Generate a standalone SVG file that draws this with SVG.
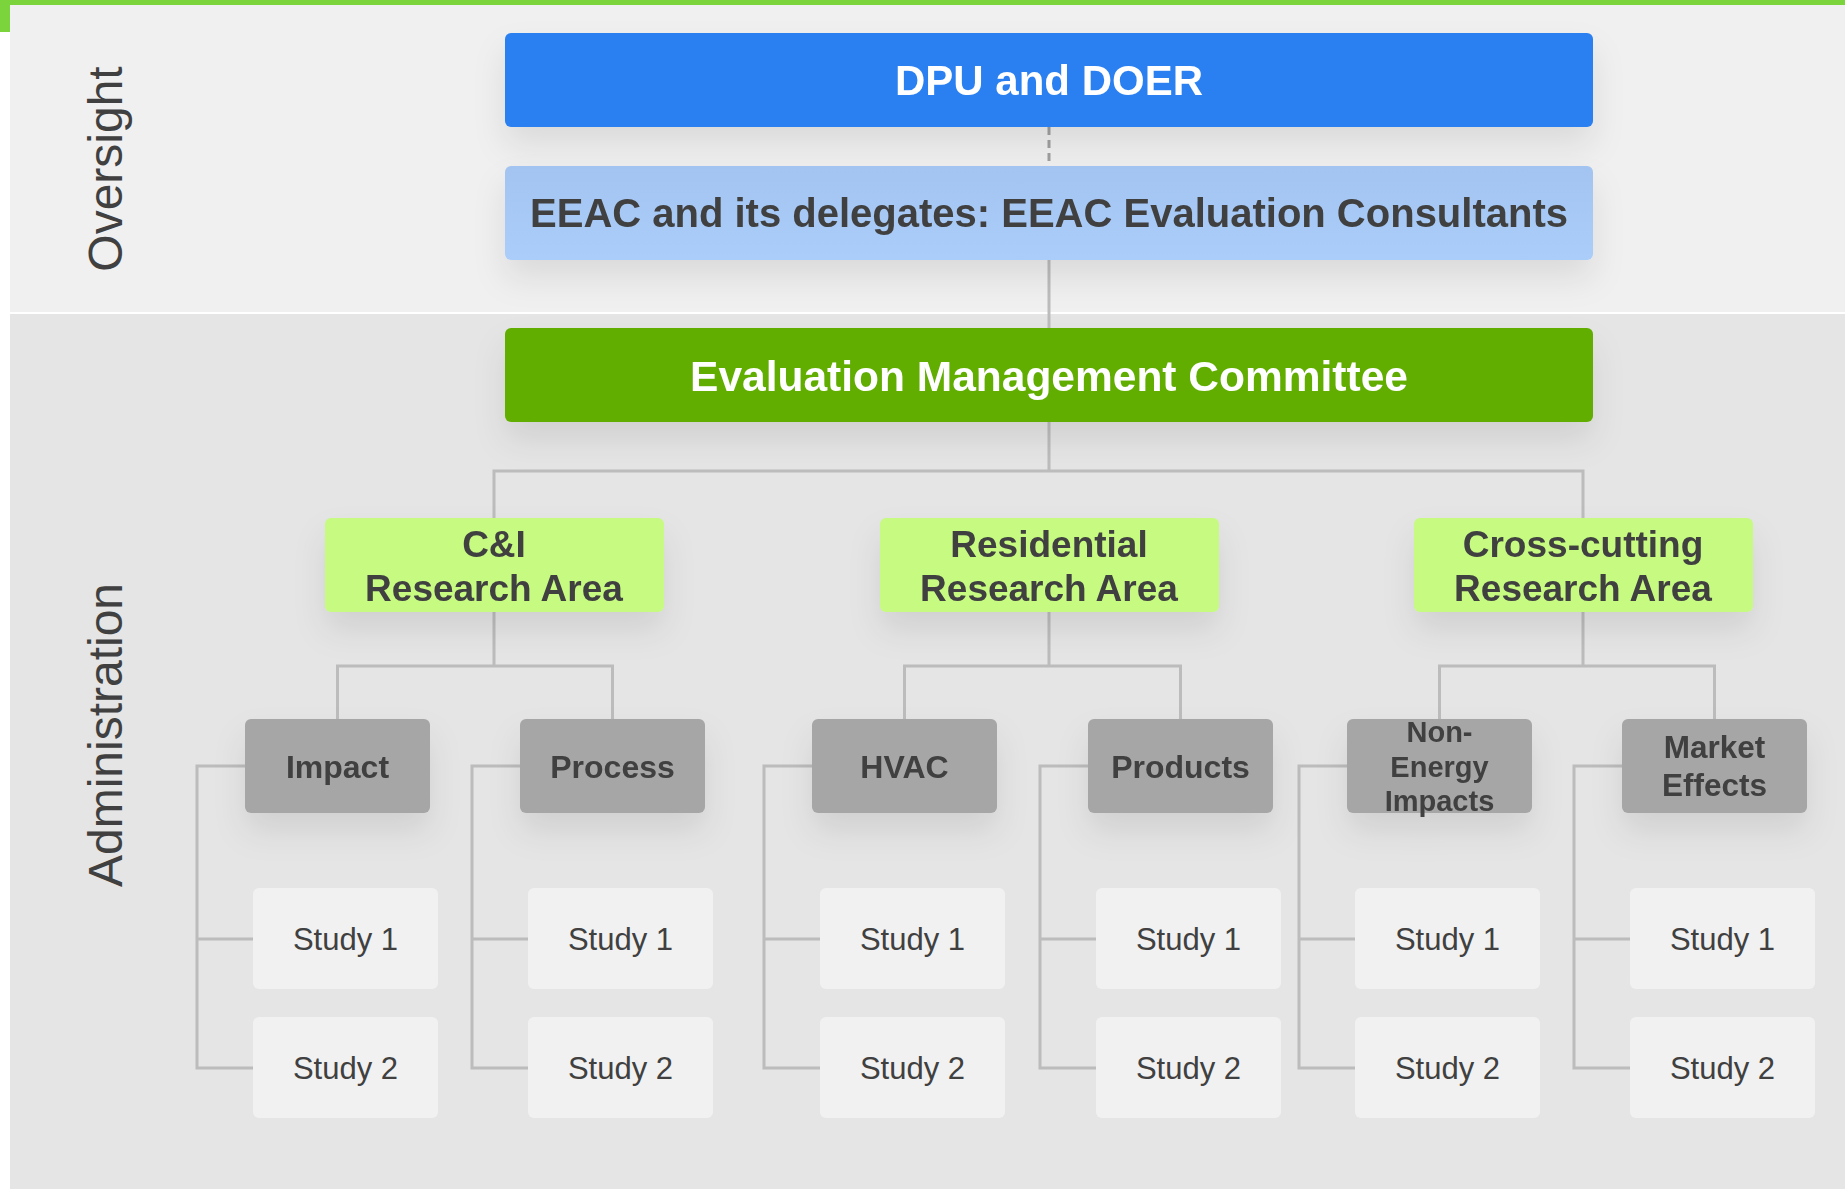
<svg xmlns="http://www.w3.org/2000/svg" width="1845" height="1189" viewBox="0 0 1845 1189">
<defs>
<style>
.lbl{font-family:"Liberation Sans",Arial,sans-serif;fill:#404040}
.b{font-weight:bold}
.w{fill:#ffffff}
.side{font-size:48px}
.conn{fill:none;stroke:#bcbcbc;stroke-width:3}
.study{fill:#f1f1f1}
.cat{fill:#a6a6a6}
.area{fill:#c6fa80}
</style>
<filter id="sh" x="-20%" y="-40%" width="140%" height="200%">
<feDropShadow dx="0" dy="18" stdDeviation="16" flood-color="#000" flood-opacity="0.09"/>
</filter>
<linearGradient id="eeacg" x1="0" y1="0" x2="0" y2="1">
<stop offset="0" stop-color="#a3c4f0"/>
<stop offset="1" stop-color="#abcdfa"/>
</linearGradient>
</defs>

<!-- background -->
<rect x="0" y="0" width="1845" height="1189" fill="#ffffff"/>
<rect x="0" y="0" width="1845" height="5" fill="#7cd43c"/>
<rect x="0" y="0" width="10" height="32" fill="#7cd43c"/>
<rect x="10" y="5" width="1835" height="307" fill="#f0f0f0"/>
<rect x="10" y="314" width="1835" height="875" fill="#e5e5e5"/>
<text class="lbl side" transform="translate(122,169) rotate(-90)" text-anchor="middle">Oversight</text>
<text class="lbl side" transform="translate(122,735) rotate(-90)" text-anchor="middle">Administration</text>

<g id="connectors">
<line x1="1049" y1="127" x2="1049" y2="166" stroke="#a0a0a0" stroke-width="3" stroke-dasharray="8 5"/>
<path class="conn" d="M1049,260 V328"/>
<path class="conn" d="M1049,422 V471 M494,518 V471 H1583 V518"/>
<path class="conn" d="M494,612 V666 M337.5,719 V666 H612.5 V719"/>
<path class="conn" d="M1049,612 V666 M904.5,719 V666 H1180.5 V719"/>
<path class="conn" d="M1583,612 V666 M1439.5,719 V666 H1714.5 V719"/>
<path class="conn" d="M245,766 H197 V1068 H253 M197,939 H253"/>
<path class="conn" d="M520,766 H472 V1068 H528 M472,939 H528"/>
<path class="conn" d="M812,766 H764 V1068 H820 M764,939 H820"/>
<path class="conn" d="M1088,766 H1040 V1068 H1096 M1040,939 H1096"/>
<path class="conn" d="M1347,766 H1299 V1068 H1355 M1299,939 H1355"/>
<path class="conn" d="M1622,766 H1574 V1068 H1630 M1574,939 H1630"/>
</g>

<g id="dpu" filter="url(#sh)">
<rect x="505" y="33" width="1088" height="94" rx="6" fill="#2a80f0"/>
<text class="lbl b w" x="1049" y="95" font-size="42" text-anchor="middle">DPU and DOER</text>
</g>
<g id="eeac" filter="url(#sh)">
<rect x="505" y="166" width="1088" height="94" rx="6" fill="url(#eeacg)"/>
<text class="lbl b" x="1049" y="227" font-size="40" text-anchor="middle">EEAC and its delegates: EEAC Evaluation Consultants</text>
</g>
<g id="emc" filter="url(#sh)">
<rect x="505" y="328" width="1088" height="94" rx="6" fill="#62ae06"/>
<text class="lbl b w" x="1049" y="391" font-size="42.5" text-anchor="middle">Evaluation Management Committee</text>
</g>

<g id="ci-area" filter="url(#sh)">
<rect class="area" x="325" y="518" width="339" height="94" rx="6"/>
<text class="lbl b" x="494" y="557" font-size="37" text-anchor="middle">C&amp;I</text>
<text class="lbl b" x="494" y="601" font-size="37" text-anchor="middle">Research Area</text>
</g>
<g id="res-area" filter="url(#sh)">
<rect class="area" x="880" y="518" width="339" height="94" rx="6"/>
<text class="lbl b" x="1049" y="557" font-size="37" text-anchor="middle">Residential</text>
<text class="lbl b" x="1049" y="601" font-size="37" text-anchor="middle">Research Area</text>
</g>
<g id="cross-area" filter="url(#sh)">
<rect class="area" x="1414" y="518" width="339" height="94" rx="6"/>
<text class="lbl b" x="1583" y="557" font-size="37" text-anchor="middle">Cross-cutting</text>
<text class="lbl b" x="1583" y="601" font-size="37" text-anchor="middle">Research Area</text>
</g>

<g id="impact" filter="url(#sh)">
<rect class="cat" x="245" y="719" width="185" height="94" rx="6"/>
<text class="lbl b" x="337.5" y="778" font-size="32" text-anchor="middle">Impact</text>
</g>
<g id="process" filter="url(#sh)">
<rect class="cat" x="520" y="719" width="185" height="94" rx="6"/>
<text class="lbl b" x="612.5" y="778" font-size="32" text-anchor="middle">Process</text>
</g>
<g id="hvac" filter="url(#sh)">
<rect class="cat" x="812" y="719" width="185" height="94" rx="6"/>
<text class="lbl b" x="904.5" y="778" font-size="32" text-anchor="middle">HVAC</text>
</g>
<g id="products" filter="url(#sh)">
<rect class="cat" x="1088" y="719" width="185" height="94" rx="6"/>
<text class="lbl b" x="1180.5" y="778" font-size="32" text-anchor="middle">Products</text>
</g>
<g id="nei" filter="url(#sh)">
<rect class="cat" x="1347" y="719" width="185" height="94" rx="6"/>
<text class="lbl b" x="1439.5" y="742" font-size="29" text-anchor="middle">Non-</text>
<text class="lbl b" x="1439.5" y="777" font-size="29" text-anchor="middle">Energy</text>
<text class="lbl b" x="1439.5" y="811" font-size="29" text-anchor="middle">Impacts</text>
</g>
<g id="market" filter="url(#sh)">
<rect class="cat" x="1622" y="719" width="185" height="94" rx="6"/>
<text class="lbl b" x="1714.5" y="758" font-size="31.5" text-anchor="middle">Market</text>
<text class="lbl b" x="1714.5" y="796" font-size="31.5" text-anchor="middle">Effects</text>
</g>

<g id="impact-study1"><rect class="study" x="253" y="888" width="185" height="101" rx="6"/><text class="lbl" x="345.5" y="950" font-size="31" text-anchor="middle">Study 1</text></g>
<g id="impact-study2"><rect class="study" x="253" y="1017" width="185" height="101" rx="6"/><text class="lbl" x="345.5" y="1079" font-size="31" text-anchor="middle">Study 2</text></g>
<g id="process-study1"><rect class="study" x="528" y="888" width="185" height="101" rx="6"/><text class="lbl" x="620.5" y="950" font-size="31" text-anchor="middle">Study 1</text></g>
<g id="process-study2"><rect class="study" x="528" y="1017" width="185" height="101" rx="6"/><text class="lbl" x="620.5" y="1079" font-size="31" text-anchor="middle">Study 2</text></g>
<g id="hvac-study1"><rect class="study" x="820" y="888" width="185" height="101" rx="6"/><text class="lbl" x="912.5" y="950" font-size="31" text-anchor="middle">Study 1</text></g>
<g id="hvac-study2"><rect class="study" x="820" y="1017" width="185" height="101" rx="6"/><text class="lbl" x="912.5" y="1079" font-size="31" text-anchor="middle">Study 2</text></g>
<g id="products-study1"><rect class="study" x="1096" y="888" width="185" height="101" rx="6"/><text class="lbl" x="1188.5" y="950" font-size="31" text-anchor="middle">Study 1</text></g>
<g id="products-study2"><rect class="study" x="1096" y="1017" width="185" height="101" rx="6"/><text class="lbl" x="1188.5" y="1079" font-size="31" text-anchor="middle">Study 2</text></g>
<g id="nei-study1"><rect class="study" x="1355" y="888" width="185" height="101" rx="6"/><text class="lbl" x="1447.5" y="950" font-size="31" text-anchor="middle">Study 1</text></g>
<g id="nei-study2"><rect class="study" x="1355" y="1017" width="185" height="101" rx="6"/><text class="lbl" x="1447.5" y="1079" font-size="31" text-anchor="middle">Study 2</text></g>
<g id="market-study1"><rect class="study" x="1630" y="888" width="185" height="101" rx="6"/><text class="lbl" x="1722.5" y="950" font-size="31" text-anchor="middle">Study 1</text></g>
<g id="market-study2"><rect class="study" x="1630" y="1017" width="185" height="101" rx="6"/><text class="lbl" x="1722.5" y="1079" font-size="31" text-anchor="middle">Study 2</text></g>
</svg>
